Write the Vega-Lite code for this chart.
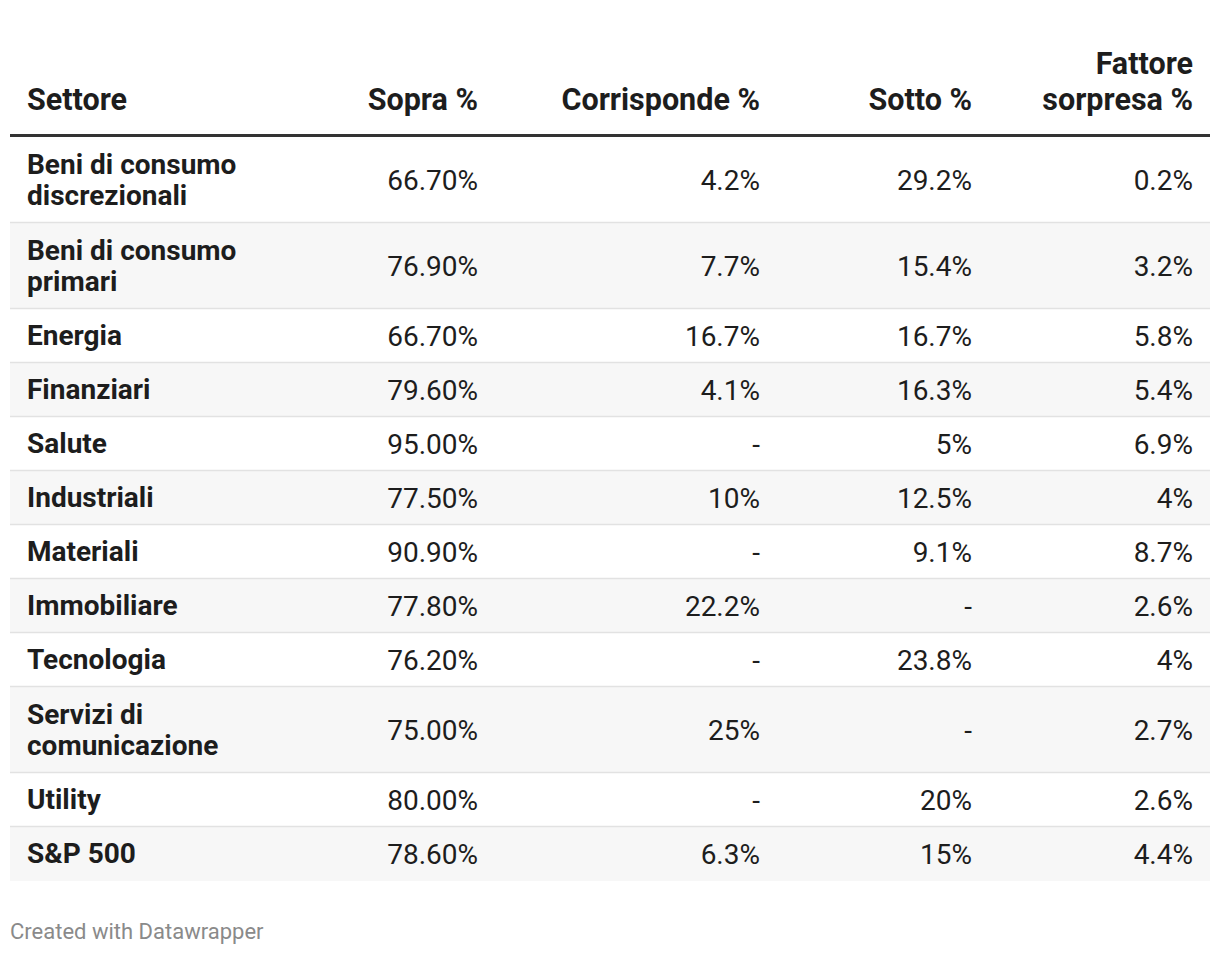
{
  "$schema": "https://vega.github.io/schema/vega-lite/v6.json",
  "width": 1220,
  "height": 956,
  "autosize": {"type": "fit", "contains": "padding"},
  "padding": 0,
  "background": "#ffffff",
  "config": {"view": {"stroke": null}, "text": {"font": "Roboto", "lineBreak": "\n"}},
  "datasets": {
    "rows": [
      {"settore": "Beni di consumo\ndiscrezionali", "sopra": 66.7, "corr": 4.2, "sotto": 29.2, "fatt": 0.2},
      {"settore": "Beni di consumo\nprimari", "sopra": 76.9, "corr": 7.7, "sotto": 15.4, "fatt": 3.2},
      {"settore": "Energia", "sopra": 66.7, "corr": 16.7, "sotto": 16.7, "fatt": 5.8},
      {"settore": "Finanziari", "sopra": 79.6, "corr": 4.1, "sotto": 16.3, "fatt": 5.4},
      {"settore": "Salute", "sopra": 95.0, "corr": null, "sotto": 5, "fatt": 6.9},
      {"settore": "Industriali", "sopra": 77.5, "corr": 10, "sotto": 12.5, "fatt": 4},
      {"settore": "Materiali", "sopra": 90.9, "corr": null, "sotto": 9.1, "fatt": 8.7},
      {"settore": "Immobiliare", "sopra": 77.8, "corr": 22.2, "sotto": null, "fatt": 2.6},
      {"settore": "Tecnologia", "sopra": 76.2, "corr": null, "sotto": 23.8, "fatt": 4},
      {"settore": "Servizi di\ncomunicazione", "sopra": 75.0, "corr": 25, "sotto": null, "fatt": 2.7},
      {"settore": "Utility", "sopra": 80.0, "corr": null, "sotto": 20, "fatt": 2.6},
      {"settore": "S&P 500", "sopra": 78.6, "corr": 6.3, "sotto": 15, "fatt": 4.4}
    ],
    "cols": [
      {"key": "sopra", "label": "Sopra %"},
      {"key": "corr", "label": "Corrisponde %"},
      {"key": "sotto", "label": "Sotto %"},
      {"key": "fatt", "label": "Fattore\nsorpresa %"}
    ],
    "one": [{"title": "Settore", "note": "Created with Datawrapper"}]
  },
  "layer": [
    {
      "data": {"name": "rows"},
      "transform": [
        {"calculate": "22 + 32 * length(split(datum.settore, '\\n'))", "as": "h"},
        {"window": [{"op": "sum", "field": "h", "as": "bottom"}, {"op": "row_number", "as": "rn"}]},
        {"calculate": "datum.bottom - datum.h", "as": "top"},
        {"filter": "datum.rn % 2 == 0"}
      ],
      "mark": {"type": "rect", "fill": "#f7f7f7"},
      "encoding": {
        "x": {"datum": 0, "type": "quantitative", "axis": null, "scale": {"domain": [0, 1, 2, 3, 4, 5, 6], "range": [10, 27, 478, 760, 972, 1193, 1210], "nice": false, "zero": false}},
        "x2": {"datum": 6},
        "y": {"field": "top", "type": "quantitative", "axis": null, "scale": {"domain": [-137, 819], "reverse": true, "nice": false, "zero": false}},
        "y2": {"field": "bottom"}
      }
    },
    {
      "data": {"name": "rows"},
      "transform": [
        {"calculate": "22 + 32 * length(split(datum.settore, '\\n'))", "as": "h"},
        {"window": [{"op": "sum", "field": "h", "as": "bottom"}, {"op": "row_number", "as": "rn"}]},
        {"calculate": "datum.bottom - 0.5", "as": "sep"},
        {"filter": "datum.rn < 12"}
      ],
      "mark": {"type": "rule", "stroke": "#e2e2e2", "strokeWidth": 1.5},
      "encoding": {
        "x": {"datum": 0, "type": "quantitative", "axis": null},
        "x2": {"datum": 6},
        "y": {"field": "sep", "type": "quantitative", "axis": null}
      }
    },
    {
      "data": {"name": "one"},
      "mark": {"type": "rule", "stroke": "#333333", "strokeWidth": 3},
      "encoding": {
        "x": {"datum": 0, "type": "quantitative", "axis": null},
        "x2": {"datum": 6},
        "y": {"datum": -1.5, "type": "quantitative", "axis": null}
      }
    },
    {
      "data": {"name": "rows"},
      "transform": [
        {"calculate": "length(split(datum.settore, '\\n'))", "as": "n"},
        {"calculate": "22 + 32 * datum.n", "as": "h"},
        {"window": [{"op": "sum", "field": "h", "as": "bottom"}]},
        {"calculate": "datum.bottom - datum.h / 2 - (datum.n - 1) * 15.5 + 1.2", "as": "ty"}
      ],
      "mark": {"type": "text", "align": "left", "baseline": "middle", "fontSize": 28, "fontWeight": "bold", "lineHeight": 31, "color": "#1d1d1d"},
      "encoding": {
        "x": {"datum": 1, "type": "quantitative", "axis": null},
        "y": {"field": "ty", "type": "quantitative", "axis": null},
        "text": {"field": "settore"}
      }
    },
    {
      "data": {"name": "rows"},
      "transform": [
        {"calculate": "22 + 32 * length(split(datum.settore, '\\n'))", "as": "h"},
        {"window": [{"op": "sum", "field": "h", "as": "bottom"}]},
        {"calculate": "datum.bottom - datum.h / 2 + 1.5", "as": "mid"},
        {"fold": ["sopra", "corr", "sotto", "fatt"]},
        {"calculate": "indexof(['sopra', 'corr', 'sotto', 'fatt'], datum.key) + 2", "as": "c"},
        {"calculate": "datum.value == null ? '-' : (datum.key == 'sopra' ? format(datum.value, '.2f') : format(datum.value, '.1~f')) + '%'", "as": "label"}
      ],
      "mark": {"type": "text", "align": "right", "baseline": "middle", "fontSize": 28, "color": "#1d1d1d"},
      "encoding": {
        "x": {"field": "c", "type": "quantitative", "axis": null},
        "y": {"field": "mid", "type": "quantitative", "axis": null},
        "text": {"field": "label"}
      }
    },
    {
      "data": {"name": "cols"},
      "transform": [
        {"calculate": "indexof(['sopra', 'corr', 'sotto', 'fatt'], datum.key) + 2", "as": "c"},
        {"calculate": "-21 - (length(split(datum.label, '\\n')) - 1) * 36", "as": "ty"}
      ],
      "mark": {"type": "text", "align": "right", "baseline": "bottom", "fontSize": 30.5, "fontWeight": "bold", "lineHeight": 36, "color": "#1d1d1d"},
      "encoding": {
        "x": {"field": "c", "type": "quantitative", "axis": null},
        "y": {"field": "ty", "type": "quantitative", "axis": null},
        "text": {"field": "label"}
      }
    },
    {
      "data": {"name": "one"},
      "mark": {"type": "text", "align": "left", "baseline": "bottom", "fontSize": 30.5, "fontWeight": "bold", "color": "#1d1d1d"},
      "encoding": {
        "x": {"datum": 1, "type": "quantitative", "axis": null},
        "y": {"datum": -21, "type": "quantitative", "axis": null},
        "text": {"field": "title"}
      }
    },
    {
      "data": {"name": "one"},
      "mark": {"type": "text", "align": "left", "baseline": "middle", "fontSize": 22, "color": "#8a8a8a"},
      "encoding": {
        "x": {"datum": 0, "type": "quantitative", "axis": null},
        "y": {"datum": 795, "type": "quantitative", "axis": null},
        "text": {"field": "note"}
      }
    }
  ]
}
